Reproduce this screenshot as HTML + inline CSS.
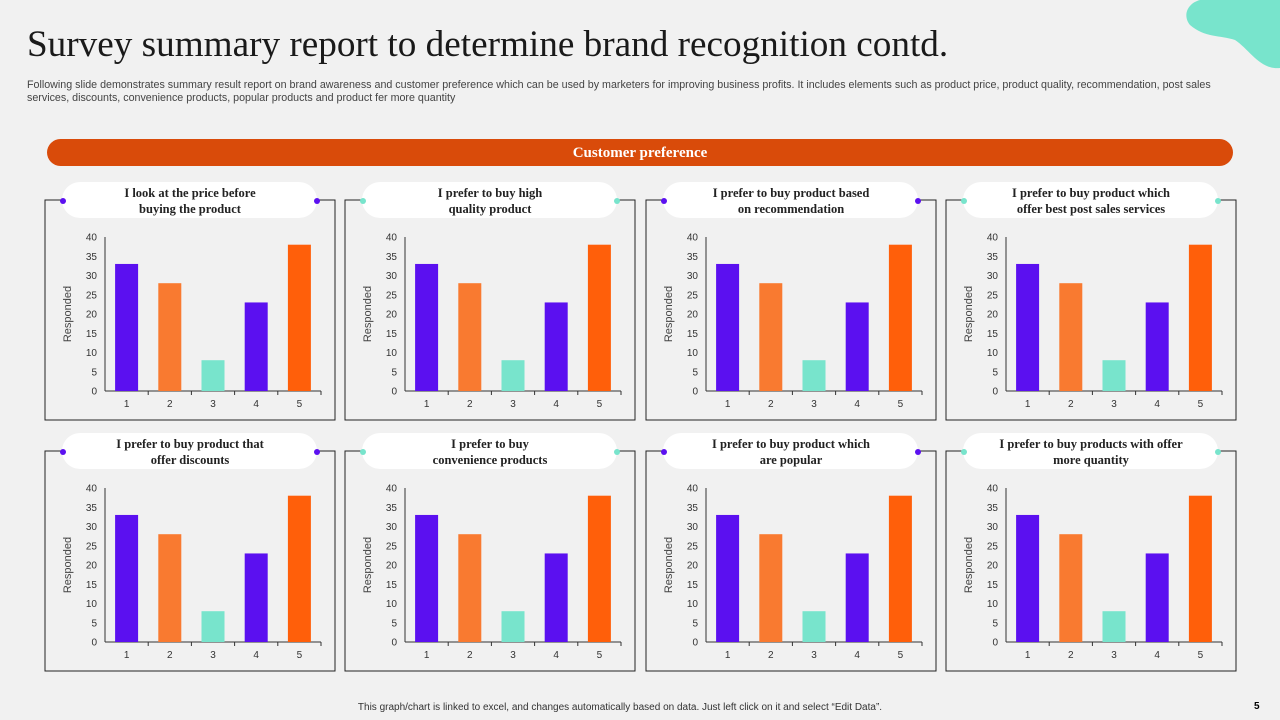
<!DOCTYPE html>
<html><head><meta charset="utf-8"><style>
body{margin:0;width:1280px;height:720px;overflow:hidden;background:#f1f1f1;font-family:"Liberation Sans",sans-serif;position:relative}
.abs{position:absolute}
h1{position:absolute;left:27px;top:23px;margin:0;font-family:"Liberation Serif",serif;font-weight:normal;font-size:37.2px;color:#1a1a1a;white-space:nowrap}
.sub{left:27px;top:79px;width:1230px;font-size:10.7px;line-height:13px;color:#444;white-space:nowrap}
.banner{left:47px;top:139px;width:1186px;height:27px;background:#d94b0a;border-radius:14px;color:#fff;font-family:"Liberation Serif",serif;font-weight:bold;font-size:15px;text-align:center;line-height:29px}
.foot{left:-20px;width:1280px;top:702px;text-align:center;font-size:10px;color:#333}
</style></head><body>
<svg class="abs" style="left:1180px;top:0" width="100" height="70"><path d="M20,0 L100,0 L100,68 C80,70 70,50 55,40 C40,35 25,38 10,25 C2,15 8,3 20,0Z" fill="#78e4cc"/></svg>
<h1>Survey summary report to determine brand recognition contd.</h1>
<div class="abs sub">Following slide demonstrates summary result report on brand awareness and customer preference which can be used by marketers for improving business profits. It includes elements such as product price, product quality, recommendation, post sales<br>services, discounts, convenience products, popular products and product fer more quantity</div>
<div class="abs banner">Customer preference</div>
<svg id="charts" class="abs" style="left:0;top:0" width="1280" height="720"></svg>
<div class="abs foot">This graph/chart is linked to excel, and changes automatically based on data. Just left click on it and select “Edit Data”.</div>
<div class="abs" style="left:1254px;top:701px;font-size:10px;font-weight:bold">5</div>
<script>
const categories=["1","2","3","4","5"];
const values=[33,28,8,23,38];
const yTicks=[0,5,10,15,20,25,30,35,40];
const titles=[["I look at the price before","buying the product"],["I prefer to buy high","quality product"],["I prefer to buy product based","on recommendation"],["I prefer to buy product which","offer best post sales services"],["I prefer to buy product that","offer discounts"],["I prefer to buy","convenience products"],["I prefer to buy product which","are popular"],["I prefer to buy products with offer","more quantity"]];
const barColors=["#5b10f0","#f97a30","#78e4cc","#5b10f0","#ff5f0a"];
const NS="http://www.w3.org/2000/svg";
const svg=document.getElementById("charts");
function mk(t,a,p){const e=document.createElementNS(NS,t);for(const k in a)e.setAttribute(k,a[k]);(p||svg).appendChild(e);return e;}
const colX=[45,345,646,946],rowY=[200,451];
titles.forEach((tt,i)=>{
  const ox=colX[i%4],oy=rowY[Math.floor(i/4)];
  const g=mk("g",{transform:`translate(${ox},${oy})`});
  
  
  mk("rect",{x:0,y:0,width:290,height:220,fill:"none",stroke:"#222","stroke-width":1},g);
  const pill=mk("rect",{x:17,y:-18,width:255,height:36,rx:18,fill:"#fff"},g);
  
  
  const dc=(i%2==0)?"#5b10f0":"#78e4cc";
  mk("circle",{cx:18,cy:1,r:3,fill:dc},g);mk("circle",{cx:272,cy:1,r:3,fill:dc},g);
  tt.forEach((l,j)=>{const t=mk("text",{x:145,y:-3+j*16,"text-anchor":"middle","font-family":"Liberation Serif,serif","font-weight":"bold","font-size":12.5,fill:"#222"},g);t.textContent=l;
    
    });
  const x0=60,x1=276,yb=191,yt=37;
  const ys=v=>yb-(v/40)*(yb-yt);
  const bw=(x1-x0)/categories.length;
  mk("line",{x1:x0,y1:yt,x2:x0,y2:yb,stroke:"#333"},g);
  mk("line",{x1:x0,y1:yb,x2:x1,y2:yb,stroke:"#333"},g);
  yTicks.forEach(v=>{const t=mk("text",{x:x0-8,y:ys(v)+3.5,"text-anchor":"end","font-size":10,fill:"#333"},g);t.textContent=v;});
  categories.forEach((c,k)=>{
    const cx=x0+bw*(k+0.5);
    mk("line",{x1:x0+bw*(k+1),y1:yb,x2:x0+bw*(k+1),y2:yb+4,stroke:"#333"},g);
    const b=mk("rect",{x:cx-11.5,y:ys(values[k]),width:23,height:yb-ys(values[k]),fill:barColors[k]},g);
    
    
    const t=mk("text",{x:cx,y:yb+16,"text-anchor":"middle","font-size":10,fill:"#333"},g);t.textContent=c;
  });
  const yl=mk("text",{x:0,y:0,transform:`translate(26,${(yb+yt)/2}) rotate(-90)`,"text-anchor":"middle","font-size":11,fill:"#444"},g);yl.textContent="Responded";
  
  
});
</script>
</body></html>
